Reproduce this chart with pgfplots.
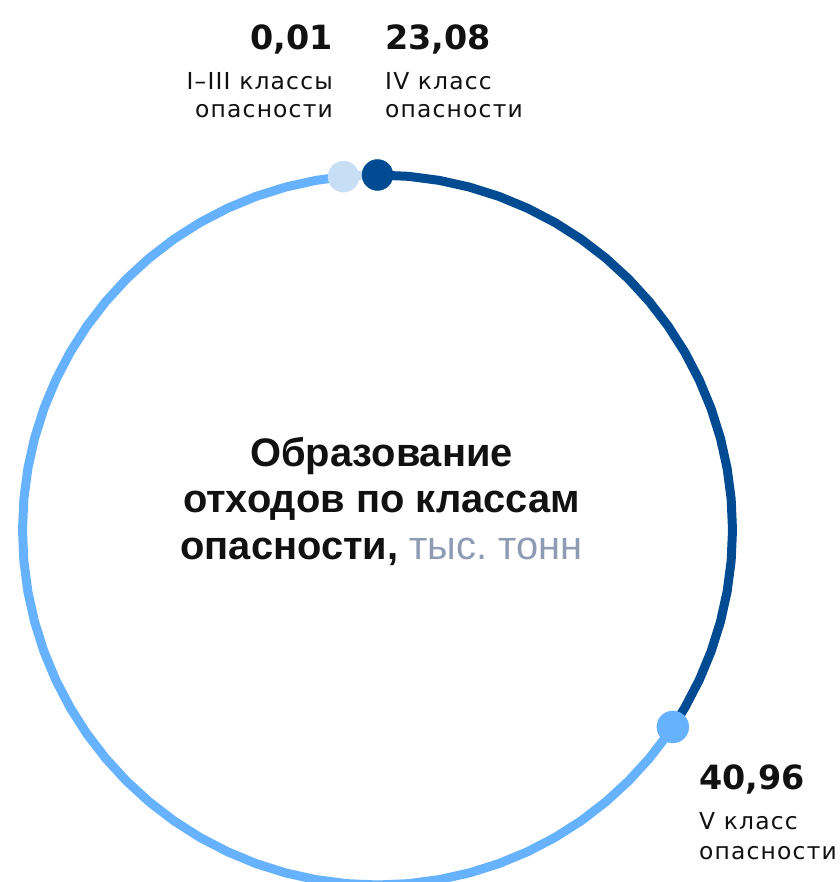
\documentclass[border=0pt]{standalone}
\usepackage{pgfplots}
\pgfplotsset{compat=1.18}
\usepackage{fontspec}
\setmainfont{Liberation Sans}
\newfontfamily\dejavu{DejaVu Sans}
\newfontfamily\dejavulab[LetterSpace=5]{DejaVu Sans}
\definecolor{darkblue}{RGB}{0,75,145}
\definecolor{lightblue}{RGB}{102,178,255}
\definecolor{paleblue}{RGB}{200,222,245}
\definecolor{txt}{RGB}{17,17,17}
\definecolor{greytxt}{RGB}{143,155,178}
\begin{document}
\begin{tikzpicture}[x=1bp,y=1bp]
\useasboundingbox (0,0) rectangle (840,882);
\clip (0,0) rectangle (840,882);
\begin{axis}[at={(377.5bp,352bp)}, anchor=center,
  width=710bp, height=710bp, scale only axis,
  xmin=-1, xmax=1, ymin=-1, ymax=1, hide axis, clip=false,
  data cs=polar]
% V class (light blue) arc
\addplot[lightblue, line width=9bp, no marks] coordinates {
(95.5,1) (100,1) (105,1) (110,1) (115,1) (120,1) (125,1) (130,1) (135,1) (140,1)
(145,1) (150,1) (155,1) (160,1) (165,1) (170,1) (175,1) (180,1) (185,1) (190,1)
(195,1) (200,1) (205,1) (210,1) (215,1) (220,1) (225,1) (230,1) (235,1) (240,1)
(245,1) (250,1) (255,1) (260,1) (265,1) (270,1) (275,1) (280,1) (285,1) (290,1)
(295,1) (300,1) (305,1) (310,1) (315,1) (320,1) (325,1) (326.3,1)};
% IV class (dark blue) arc
\addplot[darkblue, line width=9bp, no marks] coordinates {
(-33.7,1) (-30,1) (-25,1) (-20,1) (-15,1) (-10,1) (-5,1) (0,1) (5,1) (10,1)
(15,1) (20,1) (25,1) (30,1) (35,1) (40,1) (45,1) (50,1) (55,1) (60,1) (65,1)
(70,1) (75,1) (80,1) (85,1) (90,1)};
% I-III class (pale) arc
\addplot[paleblue, line width=9bp, no marks] coordinates {(90,1) (92.75,1) (95.5,1)};
% markers
\addplot[only marks, mark=*, mark size=15.5bp, mark options={draw=paleblue, fill=paleblue}] coordinates {(95.5,1)};
\addplot[only marks, mark=*, mark size=15.5bp, mark options={draw=darkblue, fill=darkblue}] coordinates {(90,1)};
\addplot[only marks, mark=*, mark size=16bp, mark options={draw=lightblue, fill=lightblue}] coordinates {(-33.7,1)};
\end{axis}
% value labels
\node[anchor=base east, inner sep=0, text=txt] at (333,832) {\dejavu\bfseries\fontsize{33.5}{40}\selectfont 0,01};
\node[anchor=base east, inner sep=0, text=txt] at (333,792) {\dejavulab\fontsize{23.5}{28}\selectfont I–III классы};
\node[anchor=base east, inner sep=0, text=txt] at (333,764) {\dejavulab\fontsize{23.5}{28}\selectfont опасности};
\node[anchor=base west, inner sep=0, text=txt] at (385,832) {\dejavu\bfseries\fontsize{33.5}{40}\selectfont 23,08};
\node[anchor=base west, inner sep=0, text=txt] at (385,792) {\dejavulab\fontsize{23.5}{28}\selectfont IV класс};
\node[anchor=base west, inner sep=0, text=txt] at (385,764) {\dejavulab\fontsize{23.5}{28}\selectfont опасности};
\node[anchor=base west, inner sep=0, text=txt] at (699,92) {\dejavu\bfseries\fontsize{33.5}{40}\selectfont 40,96};
\node[anchor=base west, inner sep=0, text=txt] at (699,52) {\dejavulab\fontsize{23.5}{28}\selectfont V класс};
\node[anchor=base west, inner sep=0, text=txt] at (699,22) {\dejavulab\fontsize{23.5}{28}\selectfont опасности};
% centre title
\node[anchor=base, inner sep=0, text=txt] at (381.5,415) {\bfseries\fontsize{40}{46}\selectfont Образование};
\node[anchor=base, inner sep=0, text=txt] at (381.5,369) {\bfseries\fontsize{40}{46}\selectfont отходов по классам};
\node[anchor=base, inner sep=0, text=txt] at (381.5,322) {\bfseries\fontsize{40}{46}\selectfont опасности, \mdseries\color{greytxt}тыс.\ тонн};
\end{tikzpicture}
\end{document}
